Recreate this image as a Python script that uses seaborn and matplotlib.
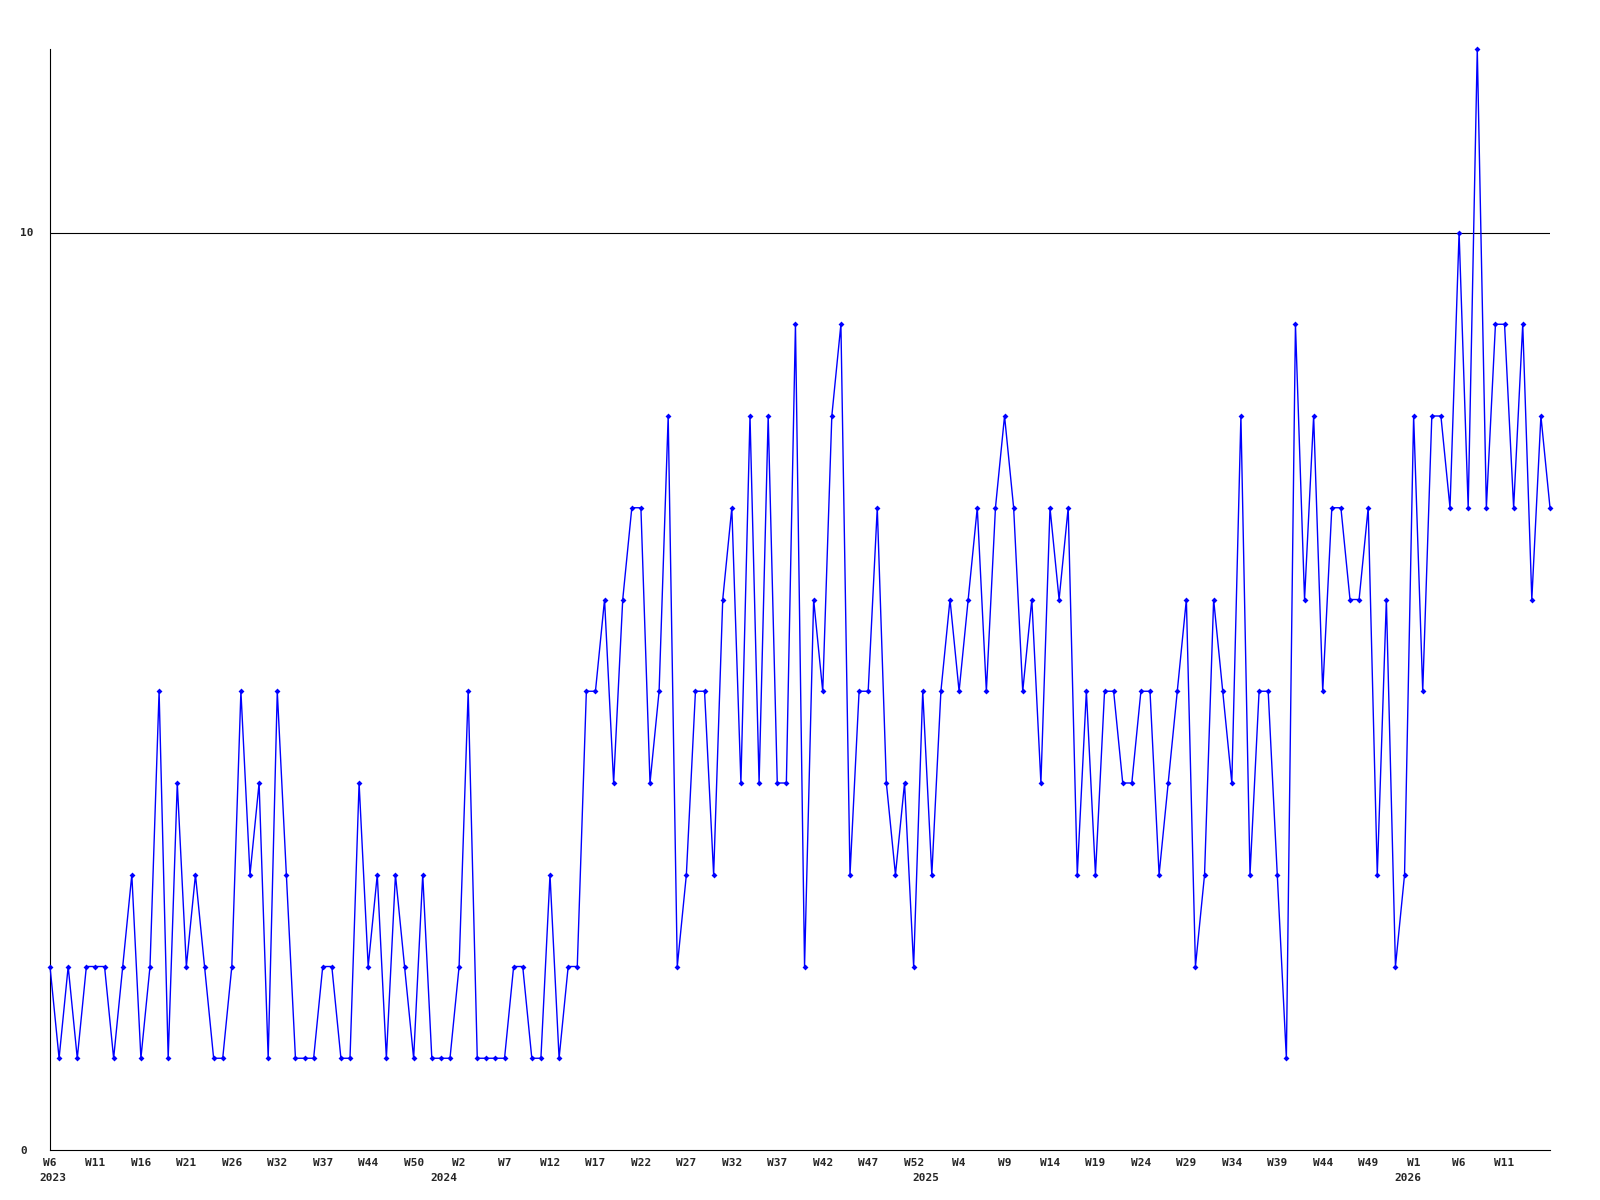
#!/usr/bin/env python3
"""
Weekly counts, 2023 W6 to 2026 W15
"""
import numpy as np
import matplotlib
matplotlib.use("Agg")
import matplotlib.pyplot as plt
import seaborn as sns

# --- data ------------------------------------------------------------------
counts = [
    2, 1, 2, 1, 2, 2, 2, 1, 2, 3, 1, 2, 5, 1, 4, 2, 3, 2, 1, 1, 2, 5, 3, 4, 1,
    5, 3, 1, 1, 1, 2, 2, 1,
    1, 4, 2, 3, 1, 3, 2, 1, 3, 1, 1, 1, 2, 5, 1, 1, 1, 1, 2, 2, 1, 1, 3, 1, 2,
    2, 5, 5, 6, 4,
    6, 7, 7, 4, 5, 8, 2, 3, 5, 5, 3, 6, 7, 4, 8, 4, 8, 4, 4, 9, 2, 6, 5, 8, 9,
    3, 5, 5, 7,
    4, 3, 4, 2, 5, 3, 5, 6, 5, 6, 7, 5, 7, 8, 7, 5, 6, 4, 7, 6, 7, 3, 5, 3, 5,
    5, 4, 4, 5, 5, 3,
    4, 5, 6, 2, 3, 6, 5, 4, 8, 3, 5, 5, 3, 1, 9, 6, 8, 5, 7, 7, 6, 6, 7, 3, 6, 2,
    3, 8, 5, 8, 8, 7, 10, 7, 12, 7, 9, 9, 7, 9, 6, 8, 7,
]

week_labels = [
    "W6", "W11", "W16", "W21", "W26", "W32", "W37", "W44", "W50",
    "W2", "W7", "W12", "W17", "W22", "W27", "W32", "W37", "W42", "W47", "W52",
    "W4", "W9", "W14", "W19", "W24", "W29", "W34", "W39", "W44", "W49",
    "W1", "W6", "W11",
]
label_step = 5

years = ["2023", "2024", "2025", "2026"]
year_start = [0, 43, 96, 149]  # point index where each year begins

y_labels = [0, 10]

# --- plot --------------------------------------------------------------------
sns.set_style("white")
plt.rcParams["font.family"] = ["DejaVu Sans Mono", "DejaVu Sans"]

idx = np.arange(len(counts))

fig = plt.figure(figsize=(16, 12), dpi=100)
ax = fig.add_axes([50 / 1600, 50 / 1200, 1500 / 1600, 1101 / 1200])

ax.axhline(10, color="black", lw=0.8, zorder=1)
sns.lineplot(x=idx, y=counts, ax=ax, color="#0000ff", lw=1.0,
             marker="D", markersize=3, markeredgewidth=0,
             markerfacecolor="#0000ff", zorder=3, clip_on=False)

ax.set_xlim(0, len(counts) - 1)
ax.set_ylim(0, 12)

ax.set_xticks(idx[::label_step][:len(week_labels)])
ax.set_xticklabels(week_labels, fontsize=8, fontweight="bold")
ax.set_yticks(y_labels)
ax.set_yticklabels([str(v) for v in y_labels], fontsize=8, fontweight="bold")
for lbl in ax.get_yticklabels():
    lbl.set_horizontalalignment("left")
ax.tick_params(axis="x", length=0, pad=5.5)
ax.tick_params(axis="y", length=0, pad=21.6)

for yr, start in zip(years, year_start):
    ax.annotate(yr, xy=(start + 0.35, 0), xycoords=("data", "axes fraction"),
                xytext=(0, -16.5), textcoords="offset points",
                ha="center", va="top", fontsize=8, fontweight="bold")

sns.despine(ax=ax, top=True, right=True)
for side in ("left", "bottom"):
    ax.spines[side].set_color("black")
    ax.spines[side].set_linewidth(0.8)
ax.set_xlabel("")
ax.set_ylabel("")

fig.savefig("out.png", dpi=100)
